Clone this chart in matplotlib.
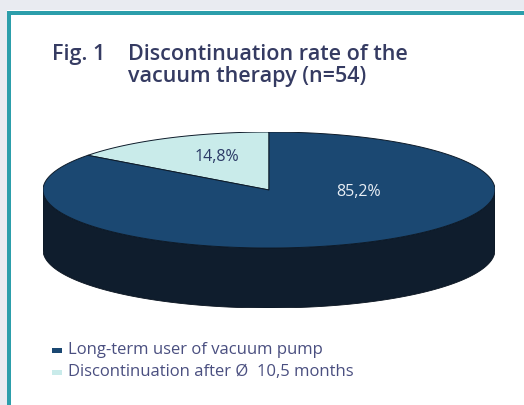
import numpy as np
import matplotlib
matplotlib.use("Agg")
import matplotlib.pyplot as plt
from matplotlib.patches import Rectangle, Polygon

# ---- data ----
labels = ["Discontinuation after Ø  10,5 months", "Long-term user of vacuum pump"]
values = [14.8, 85.2]
value_texts = ["14,8%", "85,2%"]
legend_order = [1, 0]
title_lines = ["Discontinuation rate of the", "vacuum therapy (n=54)"]

top_colors = ["#c9ebea", "#1b4872"]
side_colors = ["#9fc4c3", "#0f1d2d"]

FONT = "Open Sans"
W, H = 524, 405
fig = plt.figure(figsize=(W / 100, H / 100), dpi=100)
fig.patch.set_facecolor("white")

# frame: grey strip + teal border
fig.patches.append(Rectangle((0, 1 - 10 / H), 1, 10 / H, transform=fig.transFigure,
                             facecolor="#e9ebf1", edgecolor="none", zorder=0))
fig.patches.append(Rectangle((0, 0), 7 / W, 1, transform=fig.transFigure,
                             facecolor="#e9ebf1", edgecolor="none", zorder=0))
fig.patches.append(Rectangle((7 / W, 1 - 15 / H), 1, 4 / H, transform=fig.transFigure,
                             facecolor="#2c9eab", edgecolor="none", zorder=1))
fig.patches.append(Rectangle((7 / W, 0), 4 / W, 1 - 11 / H, transform=fig.transFigure,
                             facecolor="#2c9eab", edgecolor="none", zorder=1))

# title
tcol = "#353b62"
fig.text(52 / W, 1 - 60 / H, "Fig. 1", fontsize=15.5, fontweight="semibold", color=tcol,
         family=FONT, va="baseline")
for i, line in enumerate(title_lines):
    fig.text(128 / W, 1 - (60 + 22 * i) / H, line, fontsize=15.5, fontweight="semibold",
             color=tcol, family=FONT, va="baseline")

# ---- 3D pie ----
cx, a, cy, b, depth = 269, 226, 190, 58, 60
ax = fig.add_axes([(cx - a) / W, 1 - (cy + b + depth) / H, 2 * a / W, (2 * b + depth) / H])
d = depth / b
ax.set_xlim(-1, 1)
ax.set_ylim(-1 - d, 1)
ax.axis("off")

fr = np.array(values) / sum(values)
start = 90.0
angles = []
for f in fr:
    end = start + 360 * f
    angles.append((start, end))
    start = end

# sides (front half only: 180..360 deg)
for (s, e), sc in zip(angles, side_colors):
    segs = []
    for off in (0, 360, -360):
        lo, hi = max(s, 180 + off), min(e, 360 + off)
        if hi > lo:
            segs.append((lo, hi))
    for lo, hi in segs:
        t = np.radians(np.linspace(lo, hi, 200))
        x, y = np.cos(t), np.sin(t)
        pts = np.vstack([np.column_stack([x, y]), np.column_stack([x[::-1], y[::-1] - d])])
        ax.add_patch(Polygon(pts, closed=True, facecolor=sc, edgecolor="#0a1420",
                             linewidth=0.6, zorder=2))

# top wedges
for (s, e), tc in zip(angles, top_colors):
    t = np.radians(np.linspace(s, e, 400))
    pts = np.vstack([[0, 0], np.column_stack([np.cos(t), np.sin(t)]), [0, 0]])
    ax.add_patch(Polygon(pts, closed=True, facecolor=tc, edgecolor="#0d1b2a",
                         linewidth=0.7, zorder=3))

# value labels
label_pos = [(-0.23, 0.57), (0.395, -0.03)]
label_cols = ["#2b3a66", "#e8eef5"]
for txt, (lx, ly), lc in zip(value_texts, label_pos, label_cols):
    ax.text(lx, ly, txt, ha="center", va="center", fontsize=11.5, color=lc,
            family=FONT, zorder=5)

# legend
lcol = "#4a4f80"
for i, k in enumerate(legend_order):
    yy = 350 + 22 * i
    fig.patches.append(Rectangle((52 / W, 1 - (yy + 2.5) / H), 10 / W, 5 / H,
                                 transform=fig.transFigure, facecolor=top_colors[k],
                                 edgecolor="none"))
    fig.text(68 / W, 1 - yy / H, labels[k], fontsize=12, color=lcol, family=FONT,
             va="center")

fig.savefig("out.png", dpi=100)
